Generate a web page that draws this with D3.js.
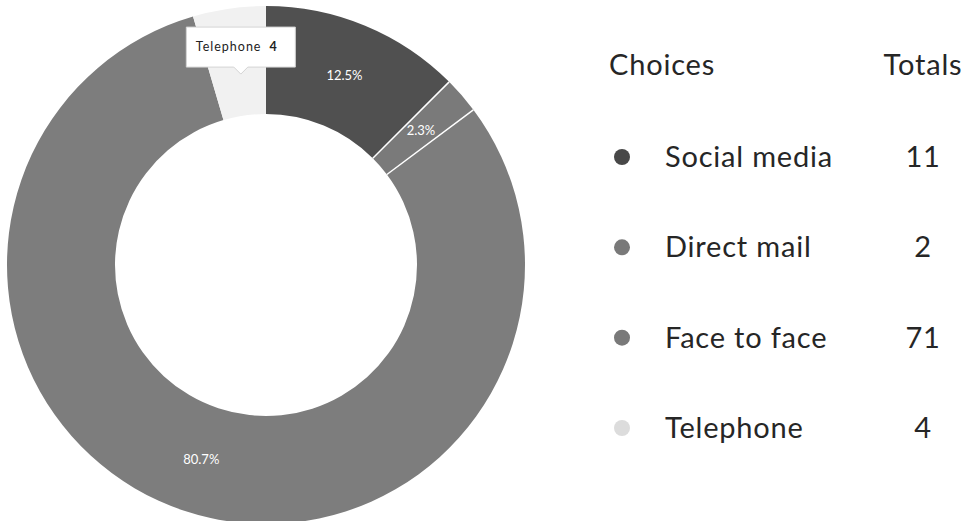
<!DOCTYPE html>
<html>
<head>
<meta charset="utf-8">
<script src="https://cdn.jsdelivr.net/npm/d3@7"></script>
<style>
  html, body { margin: 0; padding: 0; background: #ffffff; }
  svg { display: block; font-family: Lato, "Open Sans", sans-serif; }
</style>
</head>
<body>
<svg id="chart" width="966" height="521"></svg>
<script>
// Survey responses by contact channel
const choices = ["Social media", "Direct mail", "Face to face", "Telephone"];
const totals = [11, 2, 71, 4];
const sliceColors = ["#505050", "#7a7a7a", "#7d7d7d", "#f1f1f1"];
const dotColors = ["#484848", "#797979", "#797979", "#dcdcdc"];
const headers = ["Choices", "Totals"];
const tooltipChoice = "Telephone";

const svg = d3.select("#chart");

const cx = 266, cy = 265;
const outerR = 259, innerR = 151;

const data = choices.map((c, i) => ({ choice: c, total: totals[i], color: sliceColors[i], dot: dotColors[i] }));
const sum = d3.sum(totals);

const pie = d3.pie().value(d => d.total).sort(null);
const arc = d3.arc().innerRadius(innerR).outerRadius(outerR);
const labelArc = d3.arc().innerRadius((innerR + outerR) / 2).outerRadius((innerR + outerR) / 2);
const arcs = pie(data);

const g = svg.append("g").attr("transform", `translate(${cx},${cy})`);

g.selectAll("path.slice")
  .data(arcs)
  .join("path")
  .attr("class", "slice")
  .attr("d", arc)
  .attr("fill", d => d.data.color);

// thin white separators between the coloured slices
const sep = arcs.filter(a => a.index > 0 && a.index < 3);
g.selectAll("line.sep")
  .data(sep)
  .join("line")
  .attr("class", "sep")
  .attr("x1", d => innerR * Math.sin(d.startAngle))
  .attr("y1", d => -innerR * Math.cos(d.startAngle))
  .attr("x2", d => outerR * Math.sin(d.startAngle))
  .attr("y2", d => -outerR * Math.cos(d.startAngle))
  .attr("stroke", "#ffffff")
  .attr("stroke-width", 1.5);

const fmt = d3.format(".1f");
g.selectAll("text.pct")
  .data(arcs.filter(a => a.data.choice !== tooltipChoice))
  .join("text")
  .attr("class", "pct")
  .attr("transform", d => `translate(${labelArc.centroid(d)})`)
  .attr("text-anchor", "middle")
  .attr("dy", "0.35em")
  .attr("fill", "#ffffff")
  .attr("font-size", 13)
  .text(d => fmt(d.data.total / sum * 100) + "%");

// hover tooltip on the telephone slice
const tipArc = arcs.find(a => a.data.choice === tooltipChoice);
const [tx, ty] = labelArc.centroid(tipArc);
const tip = g.append("g").attr("transform", `translate(${tx + 4},${ty + 12})`);
const boxW = 109, boxH = 40, ptr = 7;
tip.append("path")
  .attr("d", `M${-boxW / 2},${-ptr - boxH} h${boxW} v${boxH} H${ptr} L0,0 L${-ptr},${-ptr} H${-boxW / 2} Z`)
  .attr("fill", "#ffffff")
  .attr("stroke", "#d4d4d4")
  .attr("stroke-width", 1);
const tipText = tip.append("text")
  .attr("x", -45)
  .attr("y", -ptr - boxH / 2)
  .attr("dy", "0.35em")
  .attr("font-size", 12.5)
  .attr("letter-spacing", 1)
  .attr("fill", "#222");
tipText.append("tspan").text(tipArc.data.choice);
tipText.append("tspan").attr("dx", 8).attr("font-weight", "bold").text(tipArc.data.total);

// legend table
const legendX = 609, dotX = 622, nameX = 665, totalX = 923;
const rowY = d3.scalePoint().domain(choices).range([157, 428]);
const fs = 29, ls = 0.8;

svg.append("text")
  .attr("x", legendX).attr("y", 65).attr("dy", "0.35em")
  .attr("font-size", fs).attr("letter-spacing", ls).attr("fill", "#262626")
  .text(headers[0]);
svg.append("text")
  .attr("x", totalX).attr("y", 65).attr("dy", "0.35em")
  .attr("text-anchor", "middle")
  .attr("font-size", fs).attr("letter-spacing", ls).attr("fill", "#262626")
  .text(headers[1]);

const rows = svg.selectAll("g.row")
  .data(data)
  .join("g")
  .attr("class", "row")
  .attr("transform", d => `translate(0,${rowY(d.choice)})`);

rows.append("circle")
  .attr("cx", dotX).attr("cy", 0).attr("r", 8)
  .attr("fill", d => d.dot);
rows.append("text")
  .attr("x", nameX).attr("dy", "0.35em")
  .attr("font-size", fs).attr("letter-spacing", ls).attr("fill", "#262626")
  .text(d => d.choice);
rows.append("text")
  .attr("x", totalX).attr("dy", "0.35em")
  .attr("text-anchor", "middle")
  .attr("font-size", fs).attr("letter-spacing", ls).attr("fill", "#262626")
  .text(d => d.total);
</script>
</body>
</html>
